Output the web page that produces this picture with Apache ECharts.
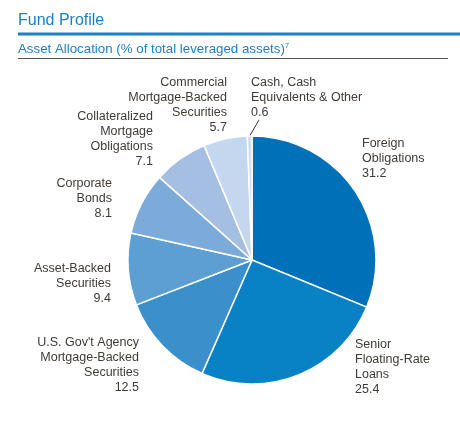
<!DOCTYPE html>
<html lang="en">
<head>
    <meta charset="UTF-8">
    <title>Fund Profile</title>
    <script src="https://cdn.jsdelivr.net/npm/echarts@6/dist/echarts.min.js"></script>
    <style>
        html, body { margin: 0; padding: 0; background: #fff; }
        #chart { width: 460px; height: 421px; }
    </style>
</head>
<body>
    <div id="chart"></div>
    <script>
        // asset allocation, % of total leveraged assets
        var categories = [
            'Foreign\nObligations',
            'Senior\nFloating-Rate\nLoans',
            'U.S. Gov\'t Agency\nMortgage-Backed\nSecurities',
            'Asset-Backed\nSecurities',
            'Corporate\nBonds',
            'Collateralized\nMortgage\nObligations',
            'Commercial\nMortgage-Backed\nSecurities',
            'Cash, Cash\nEquivalents & Other'
        ];
        var values = [31.2, 25.4, 12.5, 9.4, 8.1, 7.1, 5.7, 0.6];
        var colors = ['#0071b9', '#0881c5', '#3b90cc', '#5e9fd3', '#7dabd9', '#a4bfe1', '#c4d7ee', '#cfdcef'];

        // where each label sits (anchor x, top y, text align)
        var labelSpots = [
            [362, 136, 'left'],
            [355, 337, 'left'],
            [139, 335, 'right'],
            [111, 261, 'right'],
            [112, 176, 'right'],
            [153, 109, 'right'],
            [227, 75, 'right'],
            [251, 75, 'left']
        ];

        var textColor = '#403a35';
        var blue = '#1a7fc4';
        var font = 'Liberation Sans, Arial, sans-serif';

        var chart = echarts.init(document.getElementById('chart'));

        var pieData = categories.map(function (name, i) {
            return {
                name: name,
                value: values[i],
                itemStyle: { color: colors[i] },
                labelLine: { show: i === categories.length - 1 }
            };
        });

        chart.setOption({
            animation: false,
            title: [{
                text: 'Fund Profile',
                left: 18,
                top: 13,
                padding: 0,
                textStyle: { color: blue, fontSize: 16, fontWeight: 'normal', fontFamily: font }
            }, {
                text: '{m|Asset Allocation (% of total leveraged assets)}{s|7}',
                left: 18,
                top: 42,
                padding: 0,
                textStyle: {
                    fontWeight: 'normal',
                    rich: {
                        m: { color: blue, fontSize: 13.3, fontWeight: 'normal', lineHeight: 15, fontFamily: font },
                        s: { color: blue, fontSize: 8, fontWeight: 'normal', lineHeight: 15, verticalAlign: 'top', fontFamily: font }
                    }
                }
            }],
            graphic: [{
                type: 'line',
                shape: { x1: 18, y1: 34, x2: 460, y2: 34 },
                style: { stroke: '#1a82c8', lineWidth: 3 }
            }, {
                type: 'line',
                shape: { x1: 18, y1: 58.5, x2: 448, y2: 58.5 },
                style: { stroke: '#555', lineWidth: 1 }
            }],
            series: [{
                type: 'pie',
                center: [252, 260],
                radius: 124,
                startAngle: 90,
                clockwise: true,
                data: pieData,
                itemStyle: { borderColor: '#fff', borderWidth: 1.5 },
                label: {
                    show: true,
                    position: 'outside',
                    formatter: '{b}\n{c}',
                    color: textColor,
                    fontSize: 12.5,
                    lineHeight: 15,
                    fontFamily: font
                },
                labelLine: {
                    length: 8,
                    length2: 0,
                    lineStyle: { color: '#333', width: 1 }
                },
                labelLayout: function (params) {
                    var s = labelSpots[params.dataIndex];
                    var out = { x: s[0], y: s[1], align: s[2], verticalAlign: 'top' };
                    if (params.labelLinePoints) {
                        // short leader from slice edge to just under the label
                        var p0 = params.labelLinePoints[0];
                        out.labelLinePoints = [p0, [s[0] + 8, s[1] + 45]];
                    }
                    return out;
                },
                emphasis: { disabled: true }
            }]
        });
    </script>
</body>
</html>
